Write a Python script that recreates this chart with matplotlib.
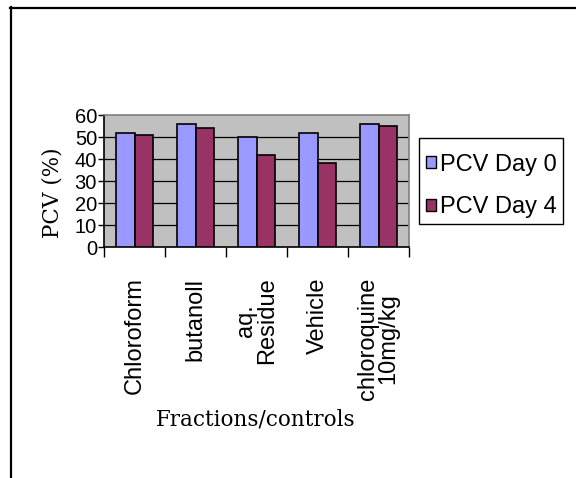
import matplotlib
matplotlib.use("Agg")
import matplotlib.pyplot as plt
import numpy as np
from matplotlib.lines import Line2D
from matplotlib.patches import Rectangle

categories = ["Chloroform", "butanoll", "aq.\nResidue", "Vehicle", "chloroquine\n10mg/kg"]
pcv_day0 = [52, 56, 50, 52, 56]
pcv_day4 = [51, 54, 42, 38, 55]
series_names = ["PCV Day 0", "PCV Day 4"]
y_ticks = [0, 10, 20, 30, 40, 50, 60]

blue = "#9999FF"
plum = "#993366"
sans = "Liberation Sans"
serif = "DejaVu Serif"

W, H = 576, 478
fig = plt.figure(figsize=(W / 100, H / 100), dpi=100)

def fx(px):
    return px / W

def fy(py):
    return 1 - py / H

# outer frame: top and left edges
fig.add_artist(Line2D([fx(10), fx(576)], [fy(8), fy(8)], color="black", lw=1.6,
                      transform=fig.transFigure))
fig.add_artist(Line2D([fx(11), fx(11)], [fy(7), fy(478)], color="black", lw=1.6,
                      transform=fig.transFigure))

left, right, top, bottom = 104, 409, 115, 247
ax = fig.add_axes([fx(left), fy(bottom), fx(right - left), (bottom - top) / H])
ax.set_facecolor("#C0C0C0")

x = np.arange(len(categories))
bw = 0.3
ax.bar(x - bw / 2, pcv_day0, width=bw, color=blue, edgecolor="black", linewidth=1.2, zorder=3)
ax.bar(x + bw / 2, pcv_day4, width=bw, color=plum, edgecolor="black", linewidth=1.2, zorder=3)

ax.set_xlim(-0.5, len(categories) - 0.5)
ax.set_ylim(0, 60)
ax.set_yticks(y_ticks)
ax.set_yticklabels([str(v) for v in y_ticks], fontsize=14.5, family=sans)
ax.tick_params(axis="y", length=4, width=1, pad=1, direction="out")
for v in y_ticks[1:-1]:
    ax.axhline(v, color="black", lw=0.9, zorder=1)

# category boundaries carry tick marks, centres carry the labels
ax.set_xticks(np.arange(len(categories) + 1) - 0.5)
ax.set_xticklabels([])
ax.tick_params(axis="x", which="major", length=7, width=1, direction="out")
ax.set_xticks(x, minor=True)
ax.set_xticklabels(categories, minor=True, rotation=90, fontsize=17, family=sans,
                   multialignment="center", linespacing=0.9)
ax.tick_params(axis="x", which="minor", length=0, pad=22)

for s in ["top", "right"]:
    ax.spines[s].set_color("#808080")
    ax.spines[s].set_linewidth(1.2)
for s in ["left", "bottom"]:
    ax.spines[s].set_color("black")
    ax.spines[s].set_linewidth(1.2)

fig.text(fx(52), fy(193), "PCV (%)", rotation=90, ha="center", va="center",
         fontsize=15.5, family=serif)
fig.text(fx(256), fy(420), "Fractions/controls", ha="center", va="center",
         fontsize=15.5, family=serif)

# legend box with a swatch and label per series
lx0, ly0, lx1, ly1 = 419, 138, 563, 224
fig.add_artist(Rectangle((fx(lx0), fy(ly1)), fx(lx1 - lx0), (ly1 - ly0) / H,
                         transform=fig.transFigure, facecolor="white",
                         edgecolor="black", lw=1.0))
for name, color, cy in zip(series_names, [blue, plum], [162, 205]):
    fig.add_artist(Rectangle((fx(426), fy(cy + 6)), fx(10), 12 / H,
                             transform=fig.transFigure, facecolor=color,
                             edgecolor="black", lw=1.0))
    fig.text(fx(440), fy(cy), name, ha="left", va="center_baseline",
             fontsize=17, family=sans)

fig.savefig("out.png", dpi=100, facecolor="white")
